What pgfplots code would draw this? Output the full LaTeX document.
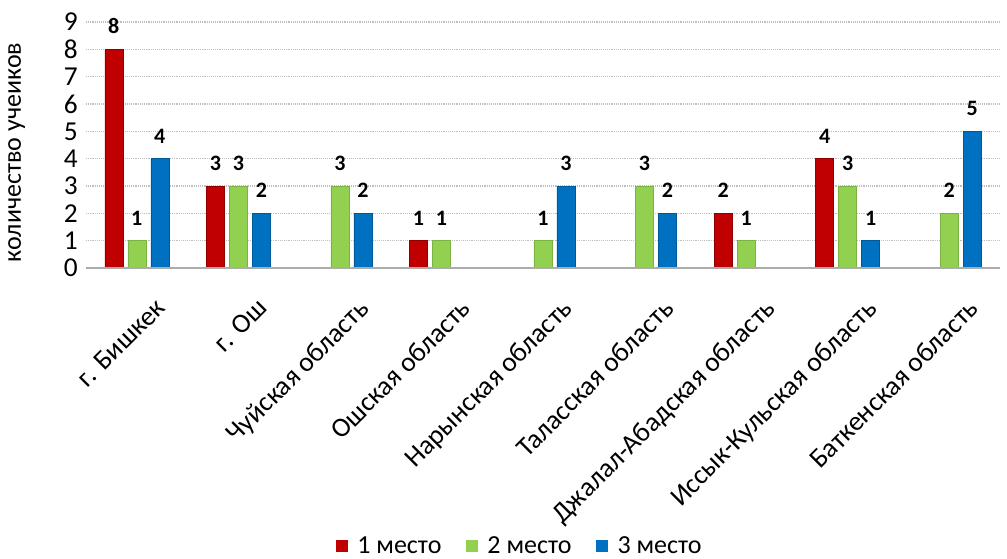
\documentclass[border=0pt]{standalone}
\usepackage{pgfplots}
\pgfplotsset{compat=1.18}
\usepackage{fontspec}
\setmainfont{Carlito}
\definecolor{cred}{HTML}{C00000}
\definecolor{cgreen}{HTML}{92D050}
\definecolor{cblue}{HTML}{0070C0}
\begin{document}
\begin{tikzpicture}
\path[use as bounding box] (-64.5pt,-217.5pt) rectangle (690.75pt,184.5pt+16.5pt);
\begin{axis}[
  at={(0,0)}, anchor=south west,
  scale only axis, width=685.5pt, height=184.5pt,
  ybar, bar width=13.5pt,
  xmin=-0.5, xmax=8.5, ymin=0, ymax=9,
  ytick={0,...,9},
  xtick={0,...,8},
  xticklabels={г. Бишкек, г. Ош, Чуйская область, Ошская область, Нарынская область, Таласская область, Джалал-Абадская область, Иссык-Кульская область, Баткенская область},
  xticklabel style={rotate=45, anchor=north east, inner sep=1pt, font=\fontsize{20.5}{24}\selectfont, yshift=-20.5pt, xshift=-2pt},
  yticklabel style={font=\fontsize{20.5}{24}\selectfont, inner sep=1pt, xshift=-5pt},
  /pgf/number format/assume math mode=true,
  axis line style={draw=none},
  tick style={draw=none},
  ymajorgrids, major grid style={gray!50, densely dotted, line width=0.9pt},
  ylabel={количество учеиков},
  ylabel style={font=\fontsize{19.5}{24}\selectfont, at={(axis description cs:0,0.47)}, anchor=center, yshift=52pt},
  nodes near coords,
  every node near coord/.append style={font=\bfseries\fontsize{16.5}{20}\selectfont, yshift=8pt},
  legend style={at={(0.475,0)}, anchor=center, yshift=-208.5pt, draw=none, legend columns=3, font=\fontsize{19.5}{23}\selectfont, /tikz/every even column/.append style={column sep=16.5pt}},
  legend image code/.code={\path[draw=none,fill=none] (0pt,0pt) -- (14pt,0pt); \fill[#1,draw=none] (0pt,-4.5pt) rectangle (9pt,4.5pt);},
  clip=false,
]
\addplot[fill=cred, draw=cred!75!black, line width=0.4pt, bar shift=-17.25pt] coordinates {(0,8) (1,3) (3,1) (6,2) (7,4)};
\addplot[fill=cgreen, draw=cgreen!85!black, line width=0.4pt, bar shift=0pt] coordinates {(0,1) (1,3) (2,3) (3,1) (4,1) (5,3) (6,1) (7,3) (8,2)};
\addplot[fill=cblue, draw=cblue!80!black, line width=0.4pt, bar shift=17.25pt] coordinates {(0,4) (1,2) (2,2) (4,3) (5,2) (7,1) (8,5)};
\legend{1 место, 2 место, 3 место}
\draw[gray!65, line width=0.8pt] (axis cs:-0.5,0) -- (axis cs:8.5,0);
\end{axis}
\end{tikzpicture}
\end{document}
